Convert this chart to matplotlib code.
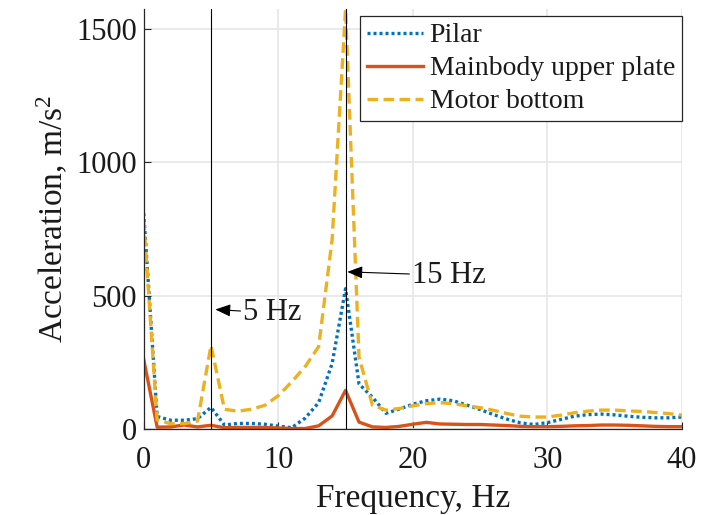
import matplotlib
matplotlib.use("Agg")
import matplotlib.pyplot as plt

plt.rcParams['font.family'] = ['Liberation Serif', 'DejaVu Serif']
plt.rcParams['mathtext.fontset'] = 'custom'
plt.rcParams['mathtext.rm'] = 'Liberation Serif'
plt.rcParams['mathtext.it'] = 'Liberation Serif:italic'
plt.rcParams['mathtext.default'] = 'regular'

# ---- data ----
freq = list(range(0, 41))
pilar = [810, 48, 34, 34, 40, 82, 16, 22, 22, 19, 12, 6, 42, 100, 246, 527, 170, 120, 60, 76,
         94, 107, 113, 107, 91, 74, 55, 38, 24, 18, 25, 37, 49, 55, 57, 54, 49, 45, 43, 43, 46]
mainbody = [262, 8, 9, 16, 9, 15, 6, 7, 7, 7, 5, 3, 3, 13, 50, 146, 27, 9, 7, 11,
            19, 26, 20, 19, 18, 18, 16, 14, 11, 10, 10, 11, 13, 14, 16, 16, 15, 13, 11, 10, 10]
motor = [785, 35, 21, 21, 31, 314, 75, 68, 75, 90, 126, 178, 235, 310, 710, 1575, 270, 90, 72, 78,
         88, 96, 100, 96, 88, 81, 71, 59, 49, 46, 46, 53, 62, 68, 72, 72, 69, 67, 63, 59, 53]
series_labels = ['Pilar', 'Mainbody upper plate', 'Motor bottom']
marker_freqs = [5, 15]
marker_labels = ['5 Hz', '15 Hz']
xticks = [0, 10, 20, 30, 40]
yticks = [0, 500, 1000, 1500]

axis_col = '#262626'

fig = plt.figure(figsize=(7.02, 5.15), dpi=100)
ax = fig.add_axes([0.2047, 0.1664, 0.9715 - 0.2047, 0.9825 - 0.1664])

ax.plot(freq, pilar, linestyle=(0, (0.9, 0.9)), color='#0072BD', lw=2.4, label=series_labels[0])
ax.plot(freq, mainbody, linestyle='-', color='#D95319', lw=2.4, label=series_labels[1])
ax.plot(freq, motor, linestyle=(0, (3.2, 1.6)), color='#EDB120', lw=2.4, label=series_labels[2])

for f in marker_freqs:
    ax.axvline(f, color='black', lw=0.8, zorder=5)

ax.set_xlim(freq[0], freq[-1])
ax.set_ylim(0, max(motor))
ax.set_xticks(xticks)
ax.set_yticks(yticks)

ax.grid(True, color='#e6e6e6', lw=1.2)
ax.set_axisbelow(True)
for s in ['top', 'right']:
    ax.spines[s].set_visible(False)
for s in ['left', 'bottom']:
    ax.spines[s].set_color(axis_col)
    ax.spines[s].set_linewidth(0.9)

ax.tick_params(axis='both', direction='in', length=5, width=0.8, colors=axis_col,
               labelsize=22, labelcolor='#1a1a1a')
ax.tick_params(axis='x', pad=12)
ax.tick_params(axis='y', pad=5)

ax.set_xlabel('Frequency, Hz', fontsize=24, color='#1a1a1a', labelpad=6)
ax.set_ylabel('Acceleration, m/s$^2$', fontsize=24, color='#1a1a1a', labelpad=4)

arrow = dict(arrowstyle='-|>,head_length=0.42,head_width=0.17', color='black', lw=0.8,
             shrinkA=0, shrinkB=0)
ax.annotate(marker_labels[0], xy=(5.32, 449), xytext=(7.4, 449), fontsize=22,
            ha='left', va='center_baseline', arrowprops=arrow, color='#1a1a1a')
ax.annotate(marker_labels[1], xy=(15.13, 590), xytext=(19.95, 590), fontsize=22,
            ha='left', va='center_baseline', arrowprops=arrow, color='#1a1a1a')

leg = ax.legend(loc='upper right', bbox_to_anchor=(1.0, 1 - 7 / 420), borderaxespad=0,
                fontsize=20, handlelength=2.0, handletextpad=0.25, labelspacing=0.27,
                borderpad=0.25, fancybox=False, framealpha=1, edgecolor=axis_col)
leg.get_frame().set_linewidth(0.9)
for t in leg.get_texts():
    t.set_color('#1a1a1a')

fig.savefig('out.png', dpi=100)
